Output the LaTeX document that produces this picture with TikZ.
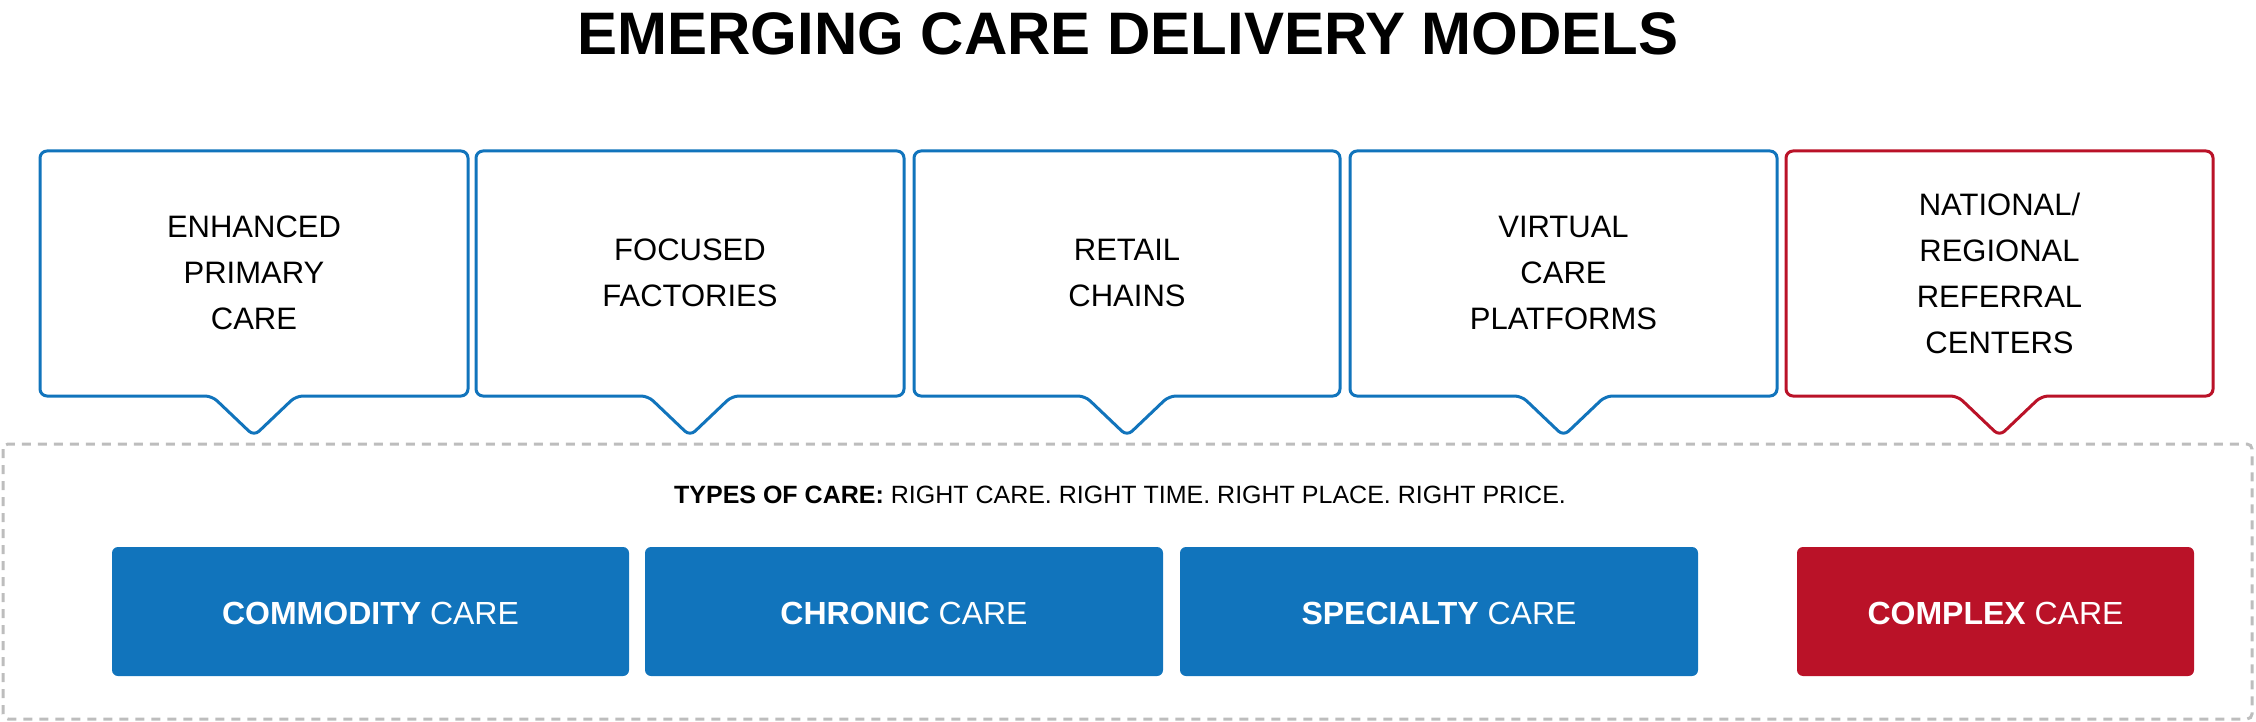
\documentclass[tikz,border=0pt]{standalone}
\usepackage{fontspec}
\setmainfont{Liberation Sans}
\begin{document}
\begin{tikzpicture}[x=1pt,y=-1pt,
  bl/.style={draw=cblue,line width=3pt,rounded corners=7pt,fill=white},
  rd/.style={draw=cred,line width=3pt,rounded corners=7pt,fill=white},
  ctext/.style={align=center,font=\fontsize{31}{46}\selectfont},
  carebox/.style={rounded corners=6pt,text=white,font=\fontsize{32}{38}\selectfont,inner sep=0pt}]
\definecolor{cblue}{HTML}{1174BC}
\definecolor{cred}{HTML}{BA1228}
\definecolor{cgrey}{HTML}{BDBDBD}
\useasboundingbox (0,0) rectangle (2256,722);
\node (title) at (1128,34) {\fontsize{60}{66}\selectfont\bfseries EMERGING CARE DELIVERY MODELS};
\draw[cgrey,line width=3pt,dash pattern=on 9pt off 7pt,rounded corners=5pt] (3,444) rectangle (2252,719);
\foreach \l/\r/\s/\n/\t in {40/468/bl/c1/{ENHANCED\\PRIMARY\\CARE},476/904/bl/c2/{FOCUSED\\FACTORIES},914/1340/bl/c3/{RETAIL\\CHAINS},1350/1777/bl/c4/{VIRTUAL\\CARE\\PLATFORMS},1786/2213/rd/c5/{NATIONAL/\\REGIONAL\\REFERRAL\\CENTERS}}{
  \pgfmathsetmacro\cx{(\l+\r)/2}
  \draw[\s] (\l,151) -- (\r,151) -- (\r,396) -- (\cx+42,396) -- (\cx,436) -- (\cx-42,396) -- (\l,396) -- cycle;
  \node[ctext] (\n) at (\cx,273) {\t};
}
\node (types) at (1120,495) {\fontsize{25}{30}\selectfont\textbf{TYPES OF CARE:} RIGHT CARE. RIGHT TIME. RIGHT PLACE. RIGHT PRICE.};
\fill[cblue,rounded corners=6pt] (112,547) rectangle (629,676);
\fill[cblue,rounded corners=6pt] (645,547) rectangle (1163,676);
\fill[cblue,rounded corners=6pt] (1180,547) rectangle (1698,676);
\fill[cred,rounded corners=6pt] (1797,547) rectangle (2194,676);
\node[carebox] (b1) at (370.5,613) {\textbf{COMMODITY} CARE};
\node[carebox] (b2) at (904,613) {\textbf{CHRONIC} CARE};
\node[carebox] (b3) at (1439,613) {\textbf{SPECIALTY} CARE};
\node[carebox] (b4) at (1995.5,613) {\textbf{COMPLEX} CARE};
\end{tikzpicture}
\end{document}
